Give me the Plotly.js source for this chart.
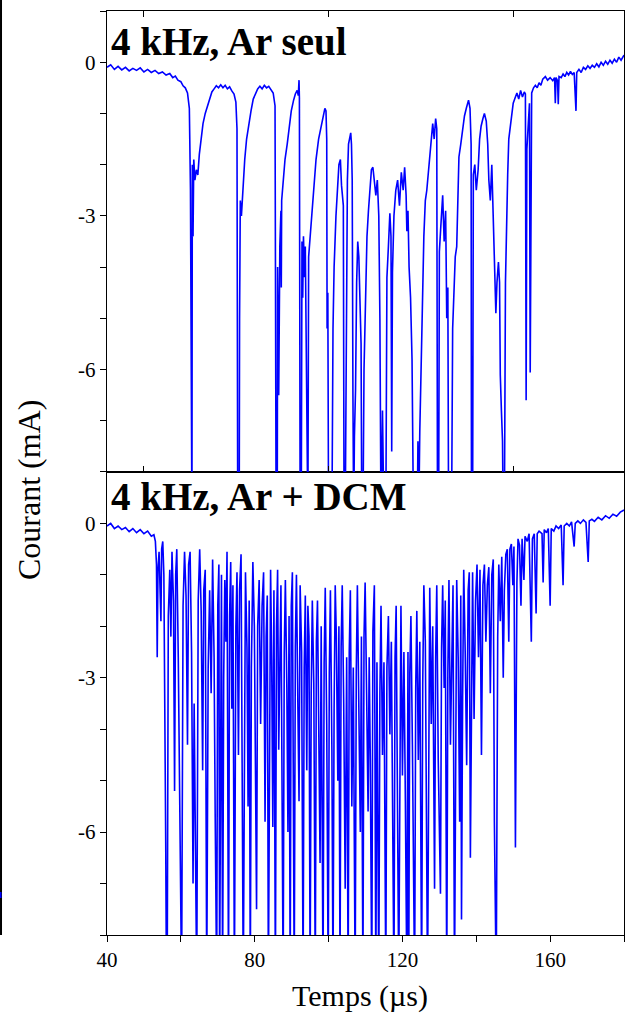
<!DOCTYPE html>
<html>
<head>
<meta charset="utf-8">
<script src="https://cdn.plot.ly/plotly-3.0.1.min.js"></script>
<style>html,body{margin:0;padding:0;background:#fff;}#chart{width:625px;height:1019px;}</style>
</head>
<body>
<div id="chart"></div>
<script>
// Panel titles and axis titles
const panelTop = "4 kHz, Ar seul";
const panelBottom = "4 kHz, Ar + DCM";
const xTitle = "Temps (µs)";
const yTitle = "Courant (mA)";

// Axis ticks
const xTickVals = [40, 60, 80, 100, 120, 140, 160, 180];
const xTickText = ["40", "", "80", "", "120", "", "160", ""];
const xTopTickVals = [50, 100, 150];
const yTickVals = [-8, -7, -6, -5, -4, -3, -2, -1, 0, 1];
const yTickText = ["", "", "-6", "", "", "-3", "", "", "0", ""];

// Top panel: 4 kHz, Ar seul  (time in µs, current in mA)
const timeArSeul = [
  40,41,42,43,44,45,46,47,48,49,
  50,51,52,53,54,55,56,57,57.8,58.5,
  59.2,60,60.6,61.2,61.8,62.3,62.6,62.8,63.0,63.1,
  63.3,63.5,63.8,64.2,64.6,65.0,65.5,66.0,66.6,67.2,
  67.8,68.4,69,69.6,70.2,70.8,71.4,72,72.6,73.2,
  73.8,74.4,74.9,75.2,75.4,75.8,75.9,76.1,76.4,76.8,
  77.3,77.8,78.4,79.0,79.6,80.2,80.8,81.4,82,82.6,
  83.2,83.8,84.4,85.0,85.5,85.8,86.1,86.2,86.5,86.8,
  87.1,87.2,87.3,87.7,88.2,88.8,89.4,89.9,90.5,91.0,
  91.5,91.8,92.0,92.1,92.3,92.6,92.8,93.0,93.2,93.5,
  93.7,93.9,94.1,94.4,94.6,95.0,95.5,96.0,96.6,97.3,
  98.0,98.6,99.0,99.3,99.5,99.6,99.8,100.0,100.9,101.2,
  101.5,102.0,102.5,102.8,103.2,103.5,104.0,104.2,104.5,104.8,
  105.1,105.4,105.7,106.0,106.2,106.4,106.6,106.8,107.0,107.3,
  107.6,107.9,108.2,108.5,108.8,109.0,109.3,109.6,110.0,110.4,
  110.8,111.2,111.6,112.0,112.4,112.8,113.2,113.6,113.9,114.2,
  114.6,115.0,115.5,115.8,116.2,116.6,116.9,117.1,117.3,117.7,
  118.2,118.7,119.2,119.7,120.2,120.6,121.0,121.2,121.5,121.8,
  122.2,122.6,123.0,124.0,124.2,124.4,124.7,125.0,125.4,125.8,
  126.2,126.6,127.1,127.6,128.2,128.6,129.0,129.3,129.5,129.8,
  130.0,130.4,130.9,131.3,131.7,132.0,132.3,132.5,133.3,133.6,
  133.9,134.3,134.7,135.0,135.3,135.8,136.3,136.8,137.3,137.9,
  138.3,138.6,138.7,139.0,139.2,139.6,140.0,140.5,140.9,141.3,
  141.8,142.2,142.7,143.1,143.4,143.8,144.2,144.6,145.0,145.3,
  145.6,146.0,146.3,146.5,146.8,147.1,147.3,147.6,147.9,148.2,
  148.5,148.8,149.2,149.6,150.0,150.5,151.0,151.5,152,152.5,
  153.0,153.3,153.5,153.7,154.0,154.4,154.6,154.8,155.0,155.5,
  156,156.5,157,157.5,158,158.7,159.3,160,160.7,161.2,
  161.4,161.6,162.0,162.2,162.4,163,163.5,164,164.5,165,
  165.5,166,166.5,167.0,167.2,167.8,168.4,169,169.6,170.2,
  170.8,171.4,172,172.6,173.2,173.8,174.4,175,175.6,176.2,
  176.8,177.4,178,178.6,179.2,180
];
const currentArSeul = [
  -0.1,-0.05,-0.14,-0.08,-0.15,-0.1,-0.17,-0.12,-0.16,-0.11,
  -0.19,-0.14,-0.2,-0.16,-0.22,-0.19,-0.25,-0.22,-0.3,-0.27,
  -0.35,-0.38,-0.46,-0.5,-0.6,-0.9,-2.5,-9,-9,-2.0,
  -3.4,-1.9,-2.3,-2.1,-2.2,-1.8,-1.5,-1.2,-1.0,-0.85,
  -0.68,-0.58,-0.52,-0.46,-0.5,-0.44,-0.5,-0.45,-0.52,-0.48,
  -0.56,-0.62,-0.78,-1.3,-9,-9,-5.0,-2.7,-3.0,-2.4,
  -1.9,-1.5,-1.2,-0.95,-0.72,-0.6,-0.52,-0.47,-0.52,-0.45,
  -0.5,-0.47,-0.53,-0.6,-0.85,-9,-9,-4.0,-6.5,-3.6,
  -2.9,-4.4,-2.7,-2.3,-1.9,-1.6,-1.2,-0.95,-0.75,-0.62,
  -0.55,-0.65,-0.35,-0.7,-9,-9,-3.5,-4.6,-3.4,-4.2,
  -3.6,-5.2,-9,-9,-3.8,-3.4,-2.9,-2.4,-1.9,-1.5,
  -1.25,-1.0,-0.9,-0.95,-1.5,-5.2,-4.5,-9,-9,-5.2,
  -4.0,-3.0,-2.2,-2.0,-1.9,-2.4,-2.8,-9,-9,-4.5,
  -2.3,-1.6,-1.5,-1.38,-1.6,-2.3,-6.5,-9,-7.3,-6.4,
  -4.3,-3.5,-3.8,-4.6,-5.5,-9,-9,-6.0,-4.7,-3.4,
  -2.9,-2.4,-2.1,-2.05,-2.4,-2.6,-2.3,-3.0,-5.0,-9,
  -6.8,-9,-9,-4.2,-3.6,-2.95,-3.4,-7.6,-4.1,-3.0,
  -2.5,-2.3,-2.8,-2.15,-2.5,-2.05,-2.6,-3.3,-2.9,-4.0,
  -4.6,-5.8,-9,-9,-7.4,-9,-7.2,-5.9,-4.8,-3.4,
  -2.7,-2.5,-2.05,-1.6,-1.2,-1.5,-1.1,-1.3,-9,-9,
  -3.7,-3.2,-2.6,-3.5,-2.9,-5.0,-4.4,-9,-9,-5.2,
  -4.6,-3.8,-3.6,-2.6,-1.85,-1.6,-1.3,-1.05,-0.9,-0.74,
  -0.9,-1.6,-9,-9,-2.2,-2.0,-2.5,-2.1,-1.5,-1.25,
  -1.1,-1.0,-1.15,-1.6,-2.3,-2.7,-2.0,-3.0,-4.5,-4.9,
  -4.3,-3.9,-4.3,-6.1,-6.8,-7.4,-9,-9,-4.3,-3.0,
  -2.2,-1.5,-1.3,-1.05,-0.8,-0.7,-0.6,-0.72,-0.55,-0.68,
  -0.58,-0.62,-6.6,-1.7,-1.2,-0.8,-6.06,-1.0,-0.6,-0.5,
  -0.45,-0.5,-0.4,-0.45,-0.33,-0.28,-0.35,-0.3,-0.36,-0.3,
  -0.8,-0.3,-0.36,-0.82,-0.28,-0.3,-0.23,-0.28,-0.2,-0.25,
  -0.18,-0.24,-0.2,-0.95,-0.2,-0.14,-0.2,-0.1,-0.14,-0.07,
  -0.12,-0.06,-0.1,-0.03,-0.09,0.0,-0.06,0.02,-0.04,0.04,
  -0.02,0.06,0.0,0.1,0.04,0.14
];

// Bottom panel: 4 kHz, Ar + DCM  (time in µs, current in mA)
const timeArDCM = [
  40,41,42,43,44,45,46,47,48,49,
  50,51,52,52.7,53.1,53.4,53.6,53.8,54.1,54.4,
  54.6,54.8,55.1,55.4,55.7,55.9,56.1,56.3,56.6,57.0,
  57.3,57.6,58.0,58.3,58.6,58.9,59.3,59.7,60.2,60.6,
  61.0,61.4,61.8,62.1,62.5,62.9,63.3,63.6,64.3,64.7,
  65.1,65.5,65.9,66.2,66.6,67.0,67.4,67.8,68.2,68.6,
  69.0,69.3,69.7,70.0,70.3,70.5,70.8,71.0,71.3,71.6,
  71.9,72.2,72.5,72.9,73.2,73.5,73.8,74.1,74.5,74.9,
  75.2,75.6,75.9,76.3,76.9,77.2,77.5,77.9,78.2,78.5,
  78.8,79.1,79.5,79.9,80.2,80.5,80.8,81.2,81.6,82.0,
  82.4,82.8,83.1,83.4,83.7,84.0,84.3,84.6,84.9,85.2,
  85.6,85.9,86.2,86.5,86.8,87.1,87.7,88.0,88.3,88.7,
  89.0,89.3,89.6,89.9,90.2,90.7,91.0,91.3,91.7,92.0,
  92.3,92.7,93.1,93.4,93.7,94.1,94.4,94.7,95.0,95.3,
  95.6,96.0,96.4,96.7,97.0,97.4,97.7,98.0,98.5,98.8,
  99.1,99.5,99.9,100.2,100.5,100.9,101.2,101.5,101.8,102.1,
  102.5,102.8,103.1,103.4,103.7,104.1,104.5,104.9,105.3,105.6,
  105.9,106.3,106.7,107.2,107.5,107.8,108.2,108.6,108.9,109.3,
  109.6,109.9,110.3,110.7,111.0,111.3,111.7,112.0,112.4,112.8,
  113.1,113.6,113.9,114.2,114.6,115.0,115.5,115.8,116.2,116.6,
  117.0,117.7,118.0,118.3,119.0,119.3,119.6,120.0,120.4,120.8,
  121.2,121.5,121.7,122.0,122.3,122.7,123.3,123.6,123.9,124.3,
  124.7,125.2,125.5,125.8,126.2,126.8,127.1,127.4,127.8,128.2,
  128.7,129.0,129.3,129.7,130.3,130.6,130.9,131.3,131.6,132.0,
  132.3,132.6,133.0,133.4,133.7,134.1,134.4,134.7,135.1,135.5,
  135.8,136.0,136.3,136.6,137.0,137.4,137.8,138.1,138.4,138.7,
  139.0,139.4,139.8,140.2,140.6,141.0,141.4,141.8,142.2,142.6,
  143.0,143.4,143.8,144.2,144.6,144.9,145.4,145.8,146.1,146.5,
  146.9,147.3,147.6,148.0,148.4,148.8,149.1,149.5,149.9,150.2,
  150.6,151.0,151.3,151.7,152.1,152.4,152.9,153.2,153.8,154.3,
  154.9,155.2,155.7,156.2,156.5,157.0,157.8,158.1,158.4,159.0,
  159.5,160.0,160.3,161.0,161.6,162.3,163.0,163.5,163.8,164.5,
  165.2,165.8,166.5,166.8,167.5,168.2,169,169.7,170.3,170.6,
  171.3,172,173,174,175,176,177,178,179,180
];
const currentArDCM = [
  -0.05,0.0,-0.1,-0.05,-0.12,-0.08,-0.16,-0.1,-0.18,-0.12,
  -0.2,-0.15,-0.25,-0.22,-0.35,-0.8,-2.6,-0.9,-0.55,-1.3,
  -1.9,-0.5,-0.35,-1.0,-3.6,-6.2,-9,-9,-1.8,-0.9,
  -2.2,-0.55,-1.5,-5.2,-1.0,-0.5,-2.6,-6.0,-9,-1.6,
  -0.55,-1.4,-4.3,-0.8,-0.55,-2.5,-7.0,-3.5,-9,-1.5,
  -0.5,-1.7,-4.8,-1.3,-0.9,-9,-2.8,-1.3,-3.3,-0.7,
  -2.6,-5.7,-9,-1.6,-0.8,-9,-1.8,-1.0,-9,-3.0,
  -1.1,-2.3,-0.55,-9,-1.8,-0.75,-3.6,-1.2,-9,-2.0,
  -0.95,-4.5,-1.3,-0.6,-9,-3.4,-0.95,-2.4,-5.5,-1.5,
  -9,-2.8,-0.75,-2.0,-4.2,-7.5,-2.0,-1.1,-3.9,-1.6,
  -0.95,-5.8,-2.2,-1.4,-9,-3.0,-0.9,-2.7,-5.9,-1.3,
  -9,-2.0,-0.9,-4.4,-2.1,-1.2,-9,-2.5,-1.1,-3.2,
  -6.0,-1.8,-9,-1.6,-0.95,-9,-2.4,-1.0,-3.6,-5.4,
  -1.2,-2.5,-9,-2.8,-1.4,-4.8,-1.6,-2.2,-9,-3.3,
  -1.5,-3.1,-9,-2.3,-1.5,-4.3,-6.6,-2.0,-9,-2.7,
  -1.25,-3.9,-9,-2.9,-1.3,-4.4,-9,-3.6,-1.2,-2.2,
  -5.0,-2.0,-9,-2.4,-1.2,-3.5,-7.1,-2.6,-9,-2.5,
  -1.3,-5.5,-2.8,-9,-2.9,-1.2,-3.8,-6.0,-2.2,-9,
  -2.2,-1.15,-3.3,-5.6,-2.6,-4.6,-9,-2.1,-1.2,-9,
  -2.7,-9,-3.3,-1.6,-4.5,-2.7,-9,-2.8,-1.8,-4.1,
  -2.3,-9,-2.6,-1.6,-9,-3.7,-1.6,-4.9,-2.5,-5.4,
  -9,-2.5,-9,-2.9,-1.8,-4.3,-9,-3.2,-1.7,-4.6,
  -2.3,-9,-3.1,-1.2,-2.3,-9,-3.6,-1.25,-3.9,-2.0,
  -7.1,-2.6,-1.2,-4.6,-7.2,-2.4,-1.2,-3.2,-1.5,-9,
  -2.9,-1.1,-4.3,-2.0,-1.2,-9,-3.5,-1.1,-2.6,-5.8,
  -1.4,-7.7,-3.4,-0.9,-2.5,-4.7,-1.3,-0.95,-6.5,-2.4,
  -0.95,-3.8,-1.5,-0.8,-2.6,-0.9,-4.5,-1.2,-0.8,-2.3,
  -1.2,-0.85,-3.3,-1.0,-0.7,-5.8,-9,-2.2,-0.8,-1.9,
  -0.65,-3.0,-1.3,-0.6,-0.5,-2.3,-0.5,-0.4,-1.2,-0.45,
  -6.3,-1.15,-0.3,-0.42,-1.6,-0.3,-1.1,-0.25,-0.35,-0.2,
  -2.3,-0.3,-0.2,-1.75,-0.2,-0.15,-0.2,-1.15,-0.12,-0.18,
  -0.1,-1.6,-0.1,-0.15,-0.05,-0.1,-0.03,-1.2,-0.05,0.0,
  -0.05,0.03,-0.45,0.0,0.05,0.0,0.07,0.02,-0.75,0.05,
  0.08,0.04,0.12,0.07,0.15,0.1,0.18,0.14,0.22,0.26
];

const serif = "Liberation Serif, Times New Roman, serif";
const axisColor = "#000";
const traceColor = "#0000ff";

const traces = [
  {x: timeArSeul, y: currentArSeul, xaxis: "x2", yaxis: "y2", type: "scatter", mode: "lines",
   line: {color: traceColor, width: 1.6}, hoverinfo: "skip", showlegend: false},
  {x: timeArDCM, y: currentArDCM, xaxis: "x", yaxis: "y", type: "scatter", mode: "lines",
   line: {color: traceColor, width: 1.6}, hoverinfo: "skip", showlegend: false}
];

const split = 0.5011;
const yCommon = {
  range: [-8, 1], tickmode: "array", tickvals: yTickVals, ticktext: yTickText,
  ticks: "outside", ticklen: 6, tickwidth: 1, tickcolor: axisColor,
  showline: true, linecolor: axisColor, linewidth: 1.2, mirror: true,
  showgrid: false, zeroline: false,
  tickfont: {family: serif, size: 21, color: "#000"}
};
const yRight = {
  range: [-8, 1], tickmode: "array", tickvals: yTickVals, ticktext: yTickVals.map(() => ""),
  ticks: "inside", ticklen: 6, tickwidth: 1, tickcolor: axisColor, side: "right",
  showline: false, showgrid: false, zeroline: false, showticklabels: false
};

const layout = {
  width: 625, height: 1019,
  margin: {l: 107, r: 1, t: 11, b: 84},
  paper_bgcolor: "#fff", plot_bgcolor: "#fff",
  showlegend: false,
  xaxis: {
    domain: [0, 1], anchor: "y", range: [40, 180],
    tickmode: "array", tickvals: xTickVals, ticktext: xTickText,
    ticks: "outside", ticklen: 6, tickwidth: 1, tickcolor: axisColor,
    showline: true, linecolor: axisColor, linewidth: 1.2, mirror: true,
    showgrid: false, zeroline: false,
    tickfont: {family: serif, size: 21, color: "#000"}
  },
  xaxis2: {
    domain: [0, 1], anchor: "y2", range: [40, 180],
    tickmode: "array", tickvals: xTopTickVals,
    ticks: "inside", ticklen: 6, tickwidth: 1, tickcolor: axisColor,
    showline: true, linecolor: axisColor, linewidth: 1.2, mirror: "ticks",
    showgrid: false, zeroline: false, showticklabels: false
  },
  yaxis: Object.assign({}, yCommon, {domain: [0, split], anchor: "x"}),
  yaxis2: Object.assign({}, yCommon, {domain: [split, 1], anchor: "x2"}),
  yaxis3: Object.assign({}, yRight, {overlaying: "y", anchor: "x"}),
  yaxis4: Object.assign({}, yRight, {overlaying: "y2", anchor: "x2"}),
  annotations: [
    {text: "<b>" + panelTop + "</b>", xref: "paper", yref: "paper", x: 0.004, y: 0.9675,
     xanchor: "left", yanchor: "middle", showarrow: false,
     font: {family: serif, size: 39, color: "#000"}},
    {text: "<b>" + panelBottom + "</b>", xref: "paper", yref: "paper", x: 0.004, y: 0.4751,
     xanchor: "left", yanchor: "middle", showarrow: false,
     font: {family: serif, size: 39, color: "#000"}},
    {text: xTitle, xref: "paper", yref: "paper", x: 0.4894, y: -0.066,
     xanchor: "center", yanchor: "middle", showarrow: false,
     font: {family: serif, size: 30, color: "#000"}},
    {text: yTitle, xref: "paper", yref: "paper", x: -0.1509, y: 0.4816, textangle: -90,
     xanchor: "center", yanchor: "middle", showarrow: false,
     font: {family: serif, size: 32, color: "#000"}}
  ],
  shapes: [
    {type: "line", xref: "paper", yref: "paper", x0: -0.2050, x1: -0.2050, y0: 1.02, y1: 0,
     line: {color: "#000", width: 2}},
    {type: "line", xref: "paper", yref: "paper", x0: -0.2060, x1: -0.2060, y0: 0.0465, y1: 0.040,
     line: {color: traceColor, width: 2}}
  ]
};

Plotly.newPlot("chart", traces, layout, {staticPlot: true, displayModeBar: false});
</script>
</body>
</html>
